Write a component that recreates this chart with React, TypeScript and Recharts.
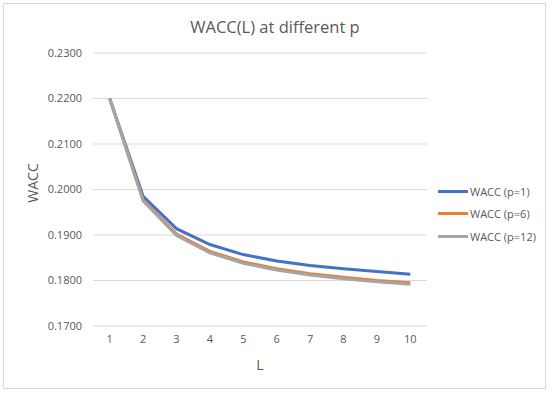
import React from 'react';
import { LineChart, Line, XAxis, YAxis, CartesianGrid, Legend } from 'recharts';

const categories = [1, 2, 3, 4, 5, 6, 7, 8, 9, 10];
const waccP1 = [0.22, 0.1985, 0.1914, 0.1879, 0.1857, 0.1843, 0.1833, 0.1826, 0.182, 0.1814];
const waccP6 = [0.22, 0.1977, 0.1902, 0.1864, 0.1841, 0.1826, 0.1815, 0.1807, 0.18, 0.1795];
const waccP12 = [0.22, 0.1975, 0.1899, 0.1861, 0.1838, 0.1823, 0.1812, 0.1804, 0.1797, 0.1792];
const yTicks = [0.17, 0.18, 0.19, 0.2, 0.21, 0.22, 0.23];
const seriesNames = ['WACC (p=1)', 'WACC (p=6)', 'WACC (p=12)'];
const seriesColors = ['#4472C4', '#ED7D31', '#A5A5A5'];
const titleText = 'WACC(L) at different p';
const xTitle = 'L';
const yTitle = 'WACC';

const data = categories.map((L, i) => ({
  L,
  p1: waccP1[i],
  p6: waccP6[i],
  p12: waccP12[i],
}));

const FONT = '"Open Sans", sans-serif';
const TEXT = '#595959';

const LegendContent = (props: any) => {
  const payload = [...(props.payload || [])].sort(
    (a: any, b: any) => seriesNames.indexOf(a.value) - seriesNames.indexOf(b.value)
  );
  return (
    <div style={{ fontFamily: FONT, fontSize: 11, color: TEXT }}>
      {payload.map((p: any) => (
        <div key={p.value} style={{ display: 'flex', alignItems: 'center', height: 22.5 }}>
          <div style={{ width: 30, height: 3, background: p.color, marginRight: 2 }} />
          <span>{p.value}</span>
        </div>
      ))}
    </div>
  );
};

export default function App() {
  return (
    <div style={{ position: 'absolute', left: 0, top: 0, width: 550, height: 394, background: '#fff' }}>
      <div
        style={{
          position: 'absolute',
          left: 3,
          top: 3,
          width: 543,
          height: 386,
          boxSizing: 'border-box',
          border: '1px solid #d9d9d9',
        }}
      />
      <div
        style={{
          position: 'absolute',
          left: 0,
          top: 16,
          width: 550,
          textAlign: 'center',
          fontFamily: FONT,
          fontSize: 16.5,
          color: TEXT,
          lineHeight: '22px',
        }}
      >
        {titleText}
      </div>
      <LineChart
        width={550}
        height={394}
        data={data}
        margin={{ top: 53, right: 123, left: 0, bottom: 38 }}
      >
        <CartesianGrid vertical={false} stroke="#d9d9d9" strokeWidth={1} />
        <XAxis
          dataKey="L"
          type="category"
          axisLine={false}
          tickLine={false}
          tickSize={0}
          tickMargin={9}
          height={30}
          padding={{ left: 16.7, right: 16.7 }}
          tick={{ fill: TEXT, fontSize: 11, fontFamily: FONT }}
          label={(p: any) => (
            <text
              x={260}
              y={370}
              textAnchor="middle"
              fill={TEXT}
              fontSize={14}
              fontFamily={FONT}
            >
              {xTitle}
            </text>
          )}
        />
        <YAxis
          type="number"
          domain={[0.17, 0.23]}
          ticks={yTicks}
          width={93}
          axisLine={false}
          tickLine={false}
          tickSize={0}
          tickMargin={11}
          tickFormatter={(v: number) => v.toFixed(4)}
          tick={{ fill: TEXT, fontSize: 11, fontFamily: FONT }}
          label={(p: any) => (
            <text
              x={38}
              y={183}
              transform="rotate(-90 38 183)"
              textAnchor="middle"
              fill={TEXT}
              fontSize={14}
              fontFamily={FONT}
            >
              {yTitle}
            </text>
          )}
        />
        <Legend
          layout="vertical"
          align="center"
          verticalAlign="middle"
          content={LegendContent}
          wrapperStyle={{ left: 438, top: 180, width: 110, height: 70 }}
        />
        <Line
          type="linear"
          dataKey="p1"
          name={seriesNames[0]}
          stroke={seriesColors[0]}
          strokeWidth={3}
          dot={false}
          isAnimationActive={false}
        />
        <Line
          type="linear"
          dataKey="p6"
          name={seriesNames[1]}
          stroke={seriesColors[1]}
          strokeWidth={3}
          dot={false}
          isAnimationActive={false}
        />
        <Line
          type="linear"
          dataKey="p12"
          name={seriesNames[2]}
          stroke={seriesColors[2]}
          strokeWidth={3}
          dot={false}
          isAnimationActive={false}
        />
      </LineChart>
    </div>
  );
}
